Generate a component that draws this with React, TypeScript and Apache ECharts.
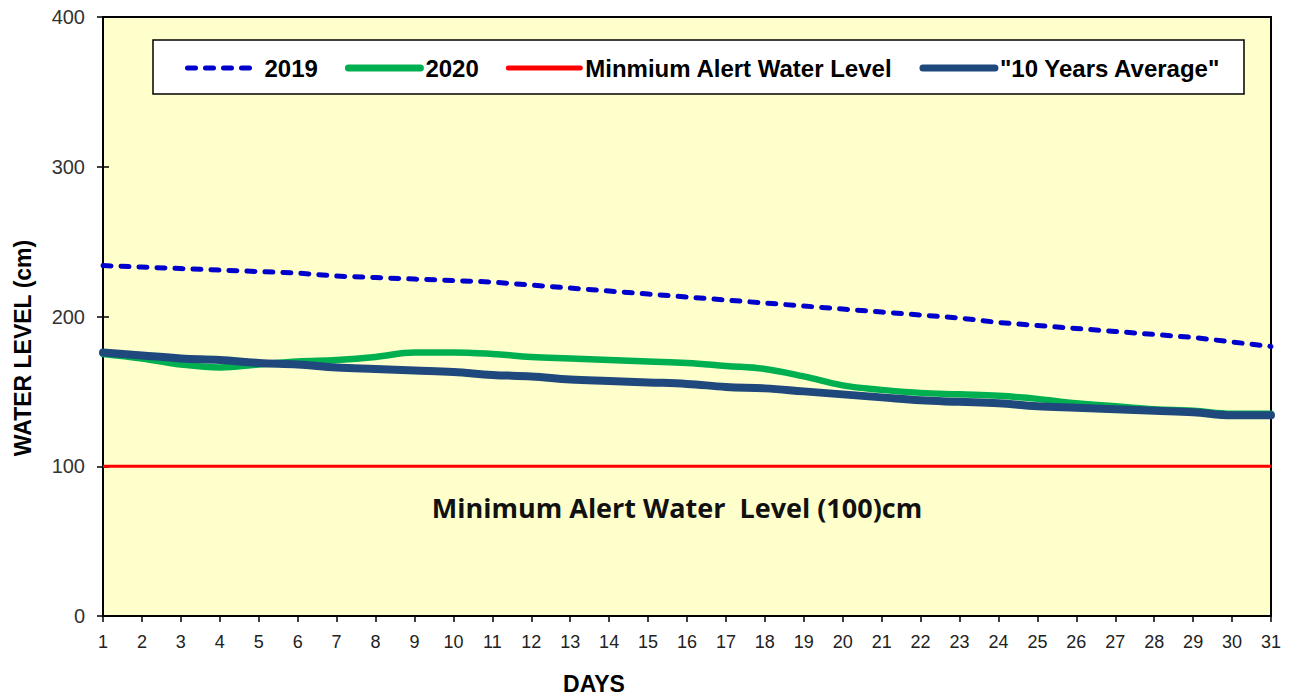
import React, { useEffect, useRef } from "react";
import * as echarts from "echarts";

const days = Array.from({ length: 31 }, (_, i) => String(i + 1));
const y2019 = [234, 233, 232, 231, 230, 229, 227, 226, 225, 224, 223, 221, 219, 217, 215, 213, 211, 209, 207, 205, 203, 201, 199, 196, 194, 192, 190, 188, 186, 183, 180];
const y2020 = [175, 172, 168, 166, 168, 170, 171, 173, 176, 176, 175, 173, 172, 171, 170, 169, 167, 165, 160, 154, 151, 149, 148, 147, 145, 142, 140, 138, 137, 135, 135];
const avg10 = [176, 174, 172, 171, 169, 168, 166, 165, 164, 163, 161, 160, 158, 157, 156, 155, 153, 152, 150, 148, 146, 144, 143, 142, 140, 139, 138, 137, 136, 134, 134];
const minAlert = days.map(() => 100);
const yTicks = { min: 0, max: 400, interval: 100 };
const names = ["2019", "2020", "Minmium Alert Water Level", '"10 Years Average"'];

export default function App() {
  const ref = useRef<HTMLDivElement>(null);
  useEffect(() => {
    document.body.style.margin = "0";
    const chart = echarts.init(ref.current!, null, { renderer: "svg" });
    const font = "Liberation Sans, Arial, sans-serif";
    const dash2019 = [8, 10];
    chart.setOption({
      animation: false,
      textStyle: { fontFamily: font },
      grid: {
        left: 103, right: 24, top: 17, bottom: 84,
        show: true, backgroundColor: "#FFFFCC", borderColor: "#000", borderWidth: 2,
      },
      graphic: [
        {
          type: "rect", z: 5,
          shape: { x: 153, y: 40, width: 1091, height: 54 },
          style: { fill: "#fff", stroke: "#000", lineWidth: 1.5 },
        },
        {
          type: "text", x: 23, y: 348, rotation: Math.PI / 2,
          style: { text: "WATER LEVEL (cm)", font: `bold 23px ${font}`, fill: "#000", align: "center", verticalAlign: "middle" },
        },
        {
          type: "text", x: 594, y: 684,
          style: { text: "DAYS", font: `bold 23px ${font}`, fill: "#000", align: "center", verticalAlign: "middle" },
        },
        {
          type: "text", x: 677, y: 507, z: 10,
          style: { text: "Minimum Alert Water  Level (100)cm", font: `bold 27px "Open Sans", sans-serif`, fill: "#111", align: "center", verticalAlign: "middle" },
        },
      ],
      legend: {
        z: 10,
        left: 180, top: 51,
        itemWidth: 72, itemHeight: 8, itemGap: 27,
        itemStyle: { opacity: 0 },
        data: [
          { name: names[0], lineStyle: { width: 5, type: dash2019, cap: "round", color: "#0000CC" } },
          { name: names[1], lineStyle: { width: 7, cap: "round", color: "#00B050" } },
          { name: names[2], lineStyle: { width: 5, cap: "round", color: "#FF0000" } },
          { name: names[3], lineStyle: { width: 7, cap: "round", color: "#1F497D" } },
        ],
        textStyle: { fontSize: 24, fontWeight: "bold", color: "#000", fontFamily: font },
      },
      xAxis: {
        type: "category", data: days, boundaryGap: false,
        axisLine: { lineStyle: { color: "#000", width: 2 } },
        axisTick: { show: true, interval: 0, length: 6, lineStyle: { color: "#000", width: 1.5 } },
        axisLabel: { interval: 0, fontSize: 18, color: "#222", margin: 17 },
        splitLine: { show: false },
      },
      yAxis: [
        {
          type: "value", ...yTicks,
          axisLine: { show: true, lineStyle: { color: "#000", width: 2 } },
          axisTick: { show: true, length: 6, lineStyle: { color: "#000", width: 1.5 } },
          axisLabel: { fontSize: 20, color: "#333", margin: 18 },
          splitLine: { show: false },
        },
        {
          type: "value", ...yTicks, position: "left",
          axisLine: { show: false },
          axisTick: { show: true, inside: true, length: 6, lineStyle: { color: "#000", width: 1.5 } },
          axisLabel: { show: false },
          splitLine: { show: false },
        },
      ],
      series: [
        {
          name: names[2], type: "line", data: minAlert, symbol: "none",
          lineStyle: { color: "#FF0000", width: 3 }, itemStyle: { color: "#FF0000" },
        },
        {
          name: names[0], type: "line", data: y2019, symbol: "none",
          lineStyle: { color: "#0000CC", width: 5, type: dash2019, cap: "round" }, itemStyle: { color: "#0000CC" },
        },
        {
          name: names[1], type: "line", data: y2020, symbol: "none", smooth: 0.4,
          lineStyle: { color: "#00B050", width: 6.5, cap: "round" }, itemStyle: { color: "#00B050" },
        },
        {
          name: names[3], type: "line", data: avg10, symbol: "none", smooth: 0.4,
          lineStyle: { color: "#1F497D", width: 8, cap: "round" }, itemStyle: { color: "#1F497D" },
        },
      ],
    });
    return () => chart.dispose();
  }, []);
  return <div ref={ref} style={{ width: 1295, height: 700 }} />;
}
